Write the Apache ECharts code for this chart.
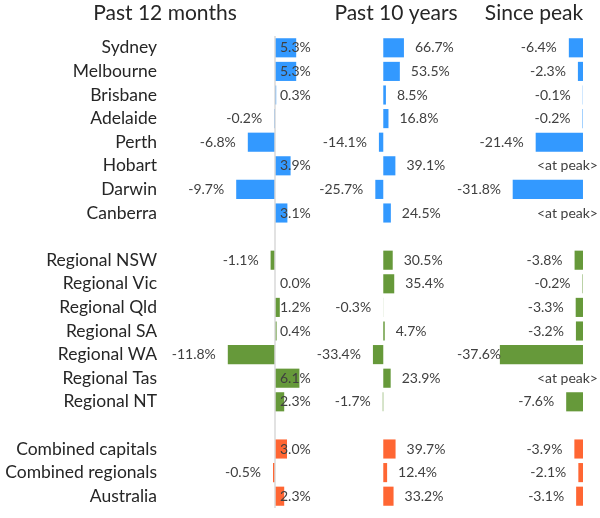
<!DOCTYPE html>
<html>
<head>
<meta charset="utf-8">
<script src="https://cdn.jsdelivr.net/npm/echarts@6/dist/echarts.min.js"></script>
<style>html,body{margin:0;padding:0;background:#fff;}#c{width:600px;height:518px;}</style>
</head>
<body>
<div id="c"></div>
<script>
// ---- data ----
const categories = ['Sydney','Melbourne','Brisbane','Adelaide','Perth','Hobart','Darwin','Canberra',' ',
  'Regional NSW','Regional Vic','Regional Qld','Regional SA','Regional WA','Regional Tas','Regional NT','  ',
  'Combined capitals','Combined regionals','Australia'];
const groups = ['cap','cap','cap','cap','cap','cap','cap','cap',null,
  'reg','reg','reg','reg','reg','reg','reg',null,
  'comb','comb','comb'];
const past12Months = [5.3,5.3,0.3,-0.2,-6.8,3.9,-9.7,3.1,null,-1.1,0.0,1.2,0.4,-11.8,6.1,2.3,null,3.0,-0.5,2.3];
const past10Years = [66.7,53.5,8.5,16.8,-14.1,39.1,-25.7,24.5,null,30.5,35.4,-0.3,4.7,-33.4,23.9,-1.7,null,39.7,12.4,33.2];
// 0 = at peak
const sincePeak = [-6.4,-2.3,-0.1,-0.2,-21.4,0,-31.8,0,null,-3.8,-0.2,-3.3,-3.2,-37.6,0,-7.6,null,-3.9,-2.1,-3.1];
const panelTitles = ['Past 12 months','Past 10 years','Since peak'];

// ---- styles ----
const colors = {cap:'#3399FF', reg:'#66993A', comb:'#FF6633'};
const textColor = '#262626';
const FONT = 'Lato';

const fmt = v => v.toFixed(1) + '%';

function items(arr, panel) {
  return arr.map((v, i) => {
    if (v === null) return {value: null};
    const it = {value: v, itemStyle: {color: colors[groups[i]]}};
    let label;
    if (panel === 0) {
      label = v >= 0 ? {position: 'insideLeft', distance: 5} : {position: 'left', distance: 12};
    } else if (panel === 1) {
      label = v >= 0 ? {position: 'right', distance: 11} : {position: 'left', distance: 12};
    } else {
      label = v === 0 ? {position: 'left', distance: -15, formatter: '<at peak>'} : {position: 'left', distance: 12};
    }
    it.label = label;
    return it;
  });
}

const gridTop = 36, gridH = 472;
const grids = [
  {left: 165, width: 155, top: gridTop, height: gridH},
  {left: 330, width: 140, top: gridTop, height: gridH},
  {left: 457, width: 143, top: gridTop, height: gridH}
];
const xRanges = [[-27.5, 11.25], [-172, 280], [-57, 7.7]];
const LABEL_MIN_X = 457;

const chart = echarts.init(document.getElementById('c'), null, {renderer: 'canvas'});
const option = {
  animation: false,
  backgroundColor: '#fff',
  title: panelTitles.map((t, i) => ({
    text: t,
    left: [160, 391, 529][i],
    top: -2,
    textAlign: 'center',
    textStyle: {fontFamily: FONT, fontSize: 21, fontWeight: 'normal', color: textColor}
  })),
  grid: grids,
  xAxis: xRanges.map((r, i) => ({
    type: 'value', gridIndex: i, min: r[0], max: r[1], show: false
  })),
  yAxis: [0,1,2].map(i => ({
    type: 'category', gridIndex: i, inverse: true, data: categories,
    axisLine: {show: false}, axisTick: {show: false}, splitLine: {show: false},
    axisLabel: i === 0 ? {show: true, fontFamily: FONT, fontSize: 17.5, color: textColor, margin: 8} : {show: false}
  })),
  series: [past12Months, past10Years, sincePeak].map((arr, i) => ({
    type: 'bar',
    xAxisIndex: i, yAxisIndex: i,
    barCategoryGap: '19%',
    data: items(arr, i),
    label: {
      show: true, fontFamily: FONT, fontSize: 14, color: '#404040',
      formatter: p => (p.value === null ? '' : fmt(p.value))
    },
    labelLayout: i === 2 ? function (p) {
      if (p.labelRect.x < LABEL_MIN_X) return {dx: LABEL_MIN_X - p.labelRect.x};
      return {};
    } : undefined,
    markLine: i === 0 ? {
      silent: true, symbol: 'none', label: {show: false},
      lineStyle: {color: '#D9D9D9', width: 1.5, type: 'solid'},
      data: [{xAxis: 0}]
    } : undefined
  }))
};
chart.setOption(option);
</script>
</body>
</html>
